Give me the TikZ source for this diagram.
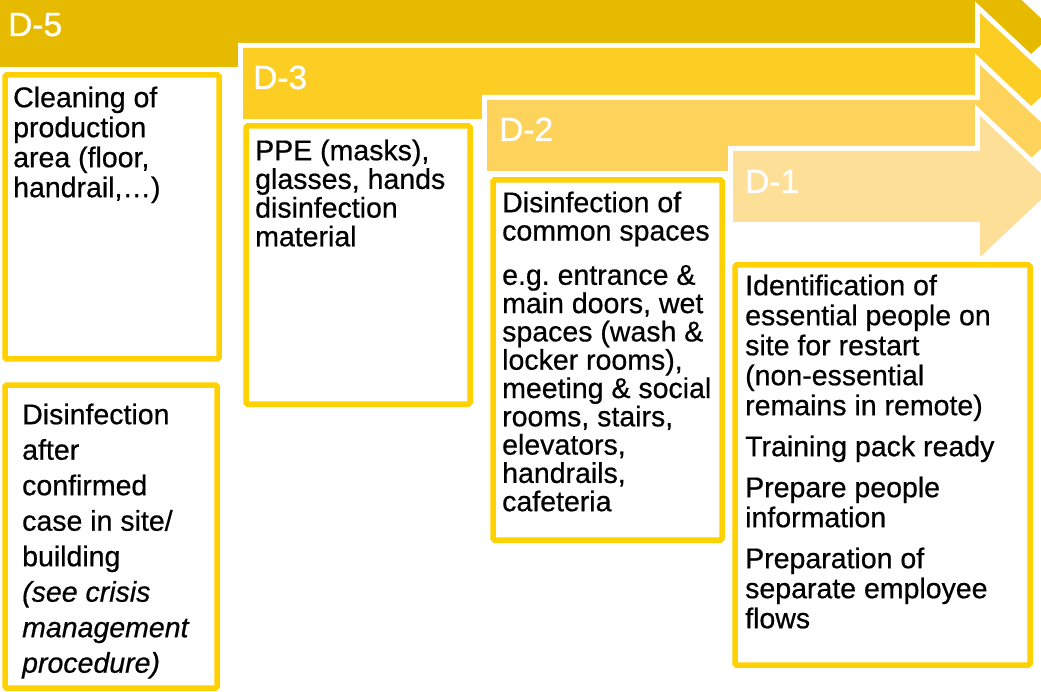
\documentclass[tikz,border=0pt]{standalone}
\usepackage{fontspec}
\setmainfont{Liberation Sans}
\newfontfamily\bodyfont{Liberation Sans}[FakeBold=0.6]
\newfontfamily\labfont{Liberation Sans}[FakeBold=0.9]
\definecolor{dfive}{HTML}{E6BA00}
\definecolor{dthree}{HTML}{FCCD23}
\definecolor{dtwo}{HTML}{FDD35C}
\definecolor{done}{HTML}{FEDF98}
\definecolor{boxline}{HTML}{FFD100}
\newcommand{\firstline}{\rule{0pt}{24pt}}
\tikzset{
  band/.style={fill=#1, preaction={draw=white, line width=10pt, line join=miter}},
  boxst/.style={draw=boxline, line width=5.5pt, fill=white, rounded corners=1.5pt},
  lab/.style={anchor=base west, inner sep=0pt, text=white, font=\labfont\fontsize{33.5}{33.5}\selectfont},
  txt/.style={anchor=north west, inner sep=0pt, align=left, font=\bodyfont\fontsize{28.5}{#1}\selectfont},
}
\begin{document}
\begin{tikzpicture}[x=1pt, y=-1pt]
\useasboundingbox (0,0) rectangle (1041,692);
\clip (0,0) rectangle (1041,692);
\fill[white] (0,0) rectangle (1041,692);
% bands (arrows)
\path[band=dfive] (-10,-4) -- (980,-4) -- (980,-39) -- (1055,31.5) -- (980,102) -- (980,67) -- (-10,67) -- cycle;
\path[band=dthree] (243,48) -- (980,48) -- (980,13) -- (1055,83.5) -- (980,154) -- (980,119) -- (243,119) -- cycle;
\path[band=dtwo] (487,100) -- (980,100) -- (980,65) -- (1055,135.5) -- (980,206) -- (980,171) -- (487,171) -- cycle;
\path[band=done] (733,151) -- (980,151) -- (980,116) -- (1055,186.5) -- (980,257) -- (980,222) -- (733,222) -- cycle;
% labels
\node[lab] (l5) at (8,36) {D-5};
\node[lab] (l3) at (253,89) {D-3};
\node[lab] (l2) at (499,141) {D-2};
\node[lab] (l1) at (745,193) {D-1};
% boxes
\path[boxst] (5,75) rectangle (219,359);
\path[boxst] (5,385) rectangle (217,688);
\path[boxst] (246,126) rectangle (470,404);
\path[boxst] (493,180) rectangle (722,540);
\path[boxst] (735,265) rectangle (1030,665);
% texts
\node[txt=30] (t1) at (13,83) {\firstline Cleaning of\\production\\area (floor,\\handrail,…)};
\node[txt=35.5] (t2) at (22,400) {\firstline Disinfection\\after\\confirmed\\case in site/\\building\\\textit{(see crisis}\\\textit{management}\\\textit{procedure)}};
\node[txt=28.7] (t3) at (255,136) {\firstline PPE (masks),\\glasses, hands\\disinfection\\material};
\node[txt=28.3] (t4) at (502,188) {\firstline Disinfection of\\common spaces\\[16pt]e.g.\ entrance \&\\main doors, wet\\spaces (wash \&\\locker rooms),\\meeting \& social\\rooms, stairs,\\elevators,\\handrails,\\cafeteria};
\node[txt=30] (t5) at (745,271) {\firstline Identification of\\essential people on\\site for restart\\(non-essential\\remains in remote)\\[11pt]Training pack ready\\[11pt]Prepare people\\information\\[11pt]Preparation of\\separate employee\\flows};
\end{tikzpicture}
\end{document}
